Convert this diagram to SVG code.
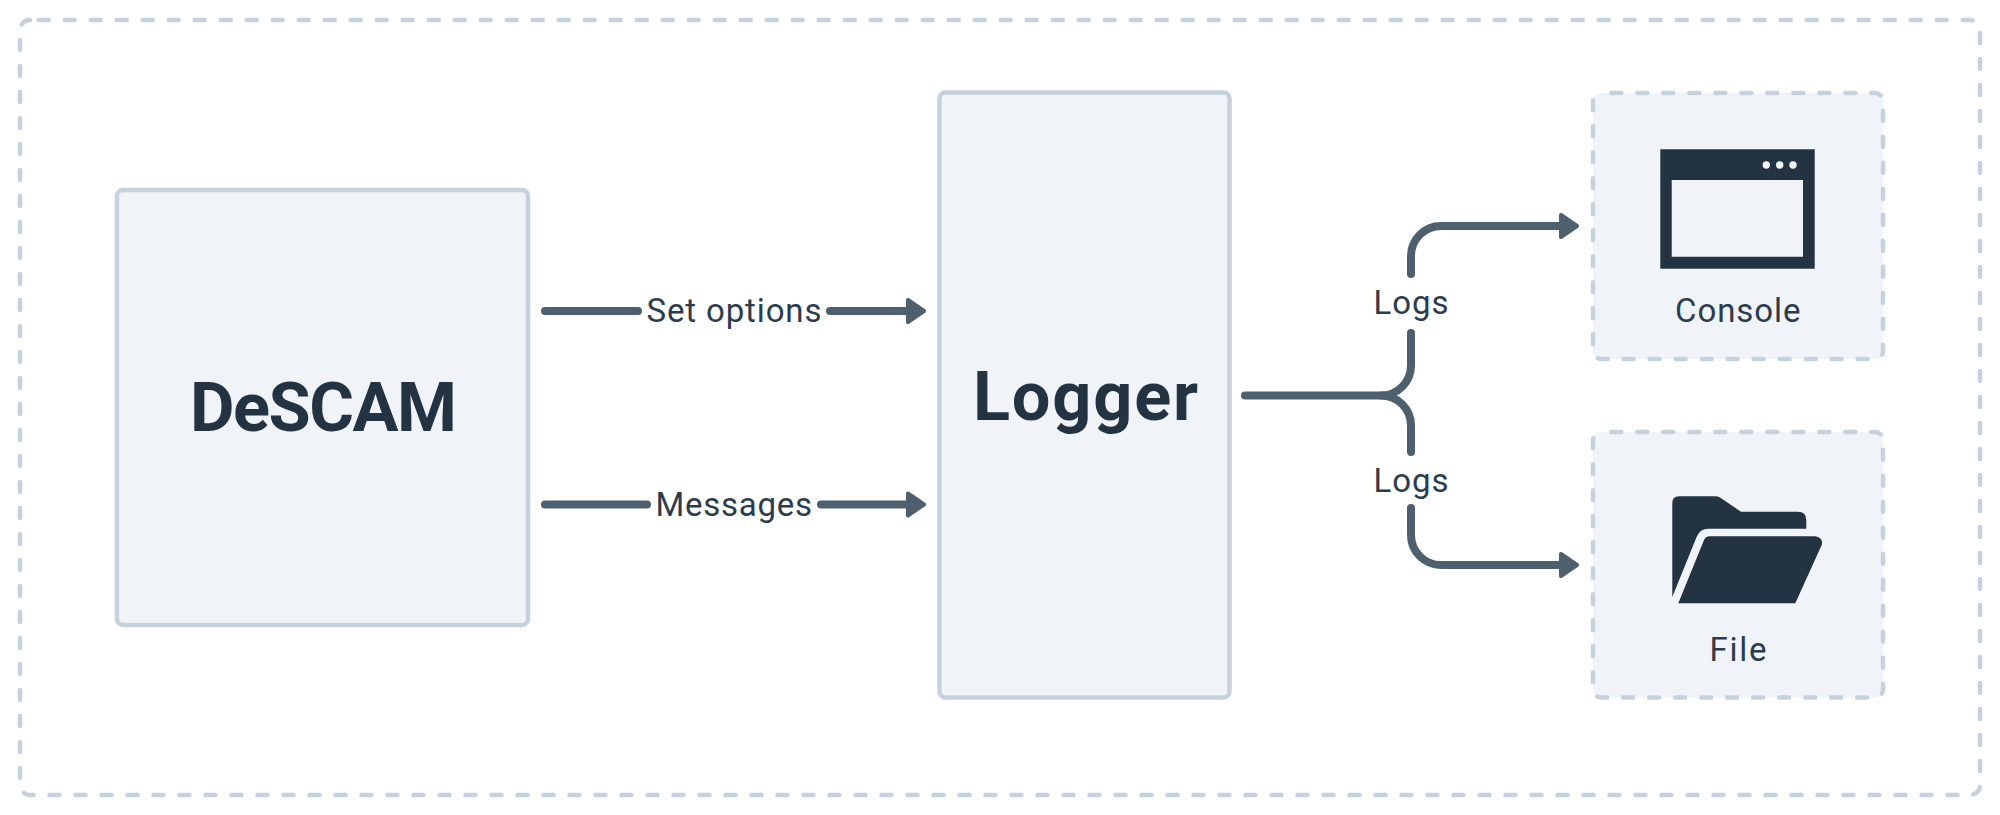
<svg xmlns="http://www.w3.org/2000/svg" width="2000" height="815" viewBox="0 0 2000 815">
<style>
.solid{fill:#f0f4f8;stroke:#c5d2de;stroke-width:4.500}
.dash{stroke:#c5d2de;stroke-width:4.500;stroke-dasharray:10 16;stroke-linecap:round}
.box{fill:#f0f4f8}
.outer{fill:none}
.icon{fill:#243341}
.title{font-family:"Roboto","Liberation Sans",sans-serif;font-weight:700;font-size:68.500px;fill:#243341}
.label{font-family:"Roboto","Liberation Sans",sans-serif;font-size:33px;fill:#2c3c4c}
.line{fill:none;stroke:#4e5f6e;stroke-width:8;stroke-linecap:round}
</style>
<defs>
<marker id="arrow" markerUnits="userSpaceOnUse" markerWidth="30" markerHeight="34" refX="0" refY="15" orient="auto" overflow="visible">
<polygon points="0,4 16,15 0,26" fill="#4e5f6e" stroke="#4e5f6e" stroke-width="4" stroke-linejoin="round"/>
</marker>
</defs>
<rect id="frame" class="dash outer" x="20" y="20" width="1960" height="775" rx="10" stroke-dashoffset="-8.700"/>
<g id="connectors">
<path class="line" d="M545 311H638"/>
<path class="line" d="M830 311H908" marker-end="url(#arrow)"/>
<path class="line" d="M545 504.500H647"/>
<path class="line" d="M821 504.500H908" marker-end="url(#arrow)"/>
<path class="line" d="M1245 395.500H1381A30 30 0 0 0 1411 365.500V333"/>
<path class="line" d="M1411 274V256A30 30 0 0 1 1441 226H1561" marker-end="url(#arrow)"/>
<path class="line" d="M1381 395.500A30 30 0 0 1 1411 425.500V452"/>
<path class="line" d="M1411 508V535A30 30 0 0 0 1441 565H1561" marker-end="url(#arrow)"/>
</g>
<g id="descam">
<rect class="solid" x="117" y="190" width="411" height="435" rx="6"/>
<text class="title" x="190" y="431" textLength="267">DeSCAM</text>
</g>
<g id="logger">
<rect class="solid" x="939.500" y="92.500" width="290" height="605" rx="6"/>
<text class="title" x="973" y="419.500" textLength="225">Logger</text>
</g>
<g id="console">
<rect class="box" x="1593" y="93" width="290" height="266" rx="8"/>
<rect class="dash outer" x="1593" y="93" width="290" height="266" rx="8" stroke-dashoffset="-10.300"/>
<path class="icon" fill-rule="evenodd" d="M1660.300 149.300H1814.700V268.700H1660.300ZM1671.700 180V256.700H1803V180Z"/>
<circle cx="1766.300" cy="165" r="3.700" fill="#f0f4f8"/>
<circle cx="1779.700" cy="165" r="3.700" fill="#f0f4f8"/>
<circle cx="1793" cy="165" r="3.700" fill="#f0f4f8"/>
<text class="label" x="1675" y="321.500" textLength="125.500">Console</text>
</g>
<g id="file">
<rect class="box" x="1593" y="432" width="290" height="265.500" rx="8"/>
<rect class="dash outer" x="1593" y="432" width="290" height="265.500" rx="8" stroke-dashoffset="-10.300"/>
<path class="icon" d="M1672.300 503Q1672.300 496.300 1679 496.300H1715Q1718 496.300 1720 497.600L1741 511.700H1798Q1806.300 511.700 1806.300 520V528.700H1708.300Q1700 528.700 1696.700 536.700L1672.300 597Z"/>
<path class="icon" d="M1678.300 603.300L1703.300 541.700Q1705 536.300 1710 536.300H1815Q1823.500 537.500 1821.700 545L1795.300 603.300Z"/>
<text class="label" x="1709.500" y="660.500" textLength="57">File</text>
</g>
<g id="labels">
<text class="label" x="646.500" y="321.500" textLength="175">Set options</text>
<text class="label" x="655.500" y="515.500" textLength="156.500">Messages</text>
<text class="label" x="1373.500" y="314" textLength="75">Logs</text>
<text class="label" x="1373.500" y="491.500" textLength="75">Logs</text>
</g>
</svg>
